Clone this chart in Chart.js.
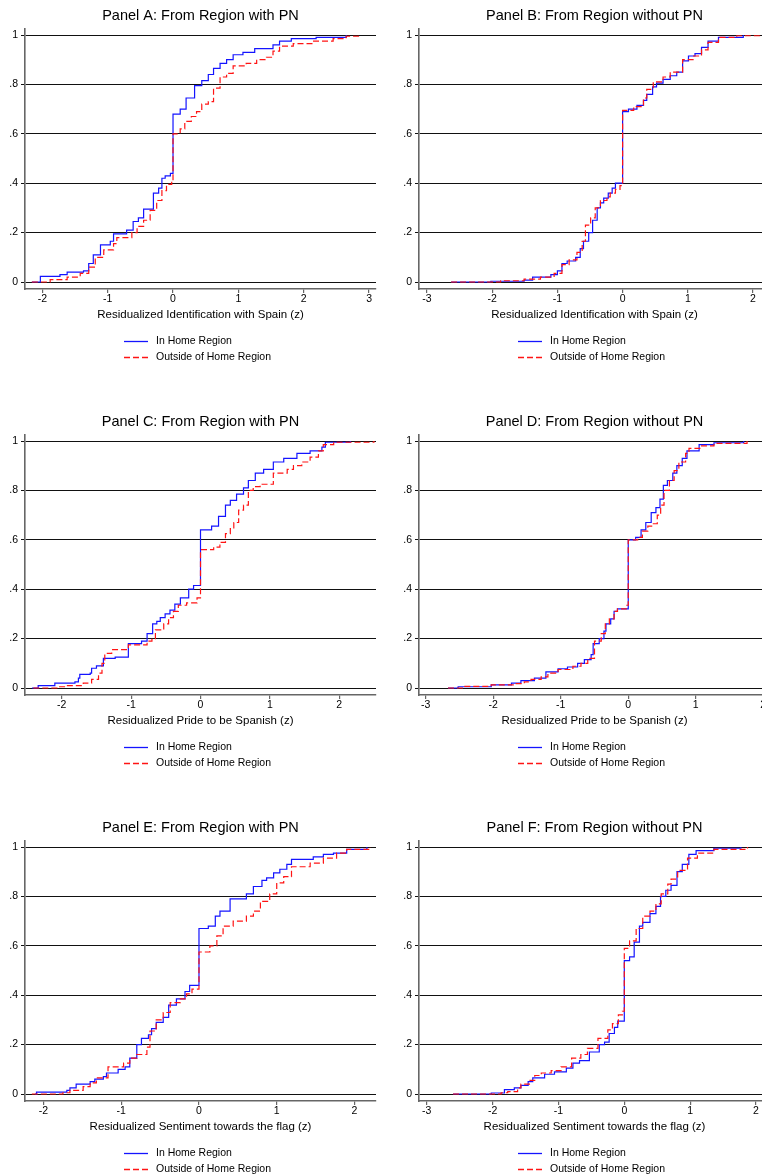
<!DOCTYPE html>
<html>
<head>
<meta charset="utf-8">
<script src="https://cdn.jsdelivr.net/npm/chart.js@4.4.1/dist/chart.umd.min.js"></script>
<style>
  html, body { margin: 0; padding: 0; background: #fff; width: 762px; height: 1176px; overflow: hidden; }
  canvas { position: absolute; }
</style>
</head>
<body>
<script>
// --- titres et axes ---
const panelTitles = [
  'Panel A: From Region with PN', 'Panel B: From Region without PN',
  'Panel C: From Region with PN', 'Panel D: From Region without PN',
  'Panel E: From Region with PN', 'Panel F: From Region without PN'
];
const axisTitles = [
  'Residualized Identification with Spain (z)', 'Residualized Identification with Spain (z)',
  'Residualized Pride to be Spanish (z)', 'Residualized Pride to be Spanish (z)',
  'Residualized Sentiment towards the flag (z)', 'Residualized Sentiment towards the flag (z)'
];
const seriesLabels = ['In Home Region', 'Outside of Home Region'];
const yTicks = [0, 0.2, 0.4, 0.6, 0.8, 1];
const xTicksA = [-2, -1, 0, 1, 2, 3];
const xTicksB = [-3, -2, -1, 0, 1, 2];
const xTicksC = [-2, -1, 0, 1, 2];
const xTicksD = [-3, -2, -1, 0, 1, 2];
const xTicksE = [-2, -1, 0, 1, 2];
const xTicksF = [-3, -2, -1, 0, 1, 2];
const xRangeA = [-2.265, 3.106];
const xRangeB = [-3.122, 2.26];
const xRangeC = [-2.53, 2.53];
const xRangeD = [-3.10, 2.10];
const xRangeE = [-2.238, 2.277];
const xRangeF = [-3.117, 2.212];

// --- CDF empiriques (sauts) ---
const homeAx = [-2.16, -2.03, -1.73, -1.62, -1.37, -1.29, -1.22, -1.11, -0.96, -0.91, -0.71, -0.61, -0.53, -0.45, -0.30, -0.22, -0.17, -0.12, -0.04, 0, 0.11, 0.20, 0.33, 0.44, 0.54, 0.62, 0.72, 0.82, 0.92, 1.07, 1.25, 1.53, 1.63, 1.81, 2.19, 2.65];
const homeAy = [0, 0.023, 0.03, 0.04, 0.045, 0.075, 0.11, 0.15, 0.165, 0.195, 0.21, 0.245, 0.26, 0.295, 0.36, 0.38, 0.42, 0.43, 0.44, 0.68, 0.70, 0.745, 0.795, 0.815, 0.84, 0.865, 0.885, 0.90, 0.92, 0.93, 0.945, 0.96, 0.975, 0.985, 0.99, 1.0];
const awayAx = [-2.16, -1.88, -1.62, -1.42, -1.29, -1.19, -1.06, -0.91, -0.86, -0.63, -0.55, -0.45, -0.35, -0.25, -0.17, -0.10, -0.02, 0, 0.11, 0.18, 0.28, 0.36, 0.44, 0.54, 0.62, 0.72, 0.82, 0.92, 1.12, 1.28, 1.43, 1.53, 1.63, 1.84, 2.14, 2.45, 2.65, 2.86];
const awayAy = [0, 0.01, 0.02, 0.035, 0.06, 0.10, 0.13, 0.155, 0.18, 0.20, 0.225, 0.25, 0.29, 0.33, 0.37, 0.395, 0.41, 0.60, 0.62, 0.65, 0.67, 0.69, 0.72, 0.73, 0.785, 0.83, 0.845, 0.875, 0.885, 0.90, 0.91, 0.935, 0.955, 0.965, 0.975, 0.985, 0.995, 1.0];

const homeBx = [-2.63, -2.02, -1.51, -1.38, -1.10, -1.00, -0.93, -0.85, -0.72, -0.65, -0.60, -0.52, -0.46, -0.39, -0.34, -0.29, -0.22, -0.16, -0.11, 0, 0.09, 0.22, 0.32, 0.37, 0.46, 0.52, 0.62, 0.73, 0.83, 0.92, 1.01, 1.11, 1.21, 1.31, 1.47, 1.85];
const homeBy = [0, 0.003, 0.008, 0.02, 0.03, 0.045, 0.075, 0.085, 0.10, 0.135, 0.165, 0.20, 0.25, 0.30, 0.32, 0.34, 0.36, 0.38, 0.40, 0.69, 0.70, 0.715, 0.735, 0.76, 0.79, 0.805, 0.82, 0.835, 0.85, 0.895, 0.915, 0.925, 0.95, 0.975, 0.99, 1.0];
const awayBx = [-2.63, -1.87, -1.51, -1.26, -1.05, -0.93, -0.82, -0.70, -0.62, -0.57, -0.49, -0.42, -0.34, -0.24, -0.19, -0.11, -0.04, 0, 0.17, 0.32, 0.37, 0.47, 0.62, 0.73, 0.92, 1.08, 1.21, 1.31, 1.47, 1.75, 2.10];
const awayBy = [0, 0.005, 0.012, 0.02, 0.035, 0.07, 0.09, 0.12, 0.165, 0.23, 0.26, 0.30, 0.33, 0.345, 0.36, 0.375, 0.39, 0.695, 0.71, 0.745, 0.78, 0.81, 0.83, 0.85, 0.90, 0.915, 0.94, 0.97, 0.99, 0.997, 1.0];

const homeCx = [-2.43, -2.34, -2.10, -1.81, -1.76, -1.74, -1.59, -1.57, -1.50, -1.40, -1.23, -1.04, -0.85, -0.77, -0.69, -0.63, -0.58, -0.51, -0.44, -0.37, -0.29, -0.17, -0.10, 0, 0.16, 0.26, 0.36, 0.43, 0.52, 0.62, 0.69, 0.79, 0.91, 1.05, 1.20, 1.39, 1.58, 1.75, 1.80, 2.16];
const homeCy = [0, 0.01, 0.02, 0.025, 0.04, 0.055, 0.06, 0.08, 0.09, 0.12, 0.125, 0.18, 0.19, 0.22, 0.26, 0.27, 0.285, 0.30, 0.315, 0.34, 0.365, 0.40, 0.415, 0.64, 0.655, 0.695, 0.74, 0.76, 0.785, 0.81, 0.84, 0.87, 0.885, 0.915, 0.93, 0.95, 0.96, 0.975, 0.995, 1.0];
const awayCx = [-2.41, -2.07, -1.93, -1.69, -1.57, -1.47, -1.42, -1.38, -1.28, -1.04, -0.77, -0.70, -0.65, -0.53, -0.46, -0.39, -0.32, -0.20, -0.05, 0, 0.19, 0.28, 0.36, 0.43, 0.48, 0.55, 0.62, 0.69, 0.76, 0.86, 1.05, 1.25, 1.34, 1.46, 1.58, 1.70, 1.77, 1.92, 2.50];
const awayCy = [0, 0.005, 0.01, 0.02, 0.035, 0.06, 0.10, 0.14, 0.155, 0.175, 0.19, 0.20, 0.235, 0.26, 0.285, 0.31, 0.335, 0.345, 0.365, 0.56, 0.57, 0.59, 0.625, 0.645, 0.67, 0.72, 0.74, 0.80, 0.815, 0.825, 0.87, 0.885, 0.90, 0.915, 0.935, 0.96, 0.985, 0.995, 1.0];

const homeDx = [-2.67, -2.52, -2.03, -1.73, -1.59, -1.39, -1.22, -1.04, -0.90, -0.75, -0.65, -0.55, -0.52, -0.43, -0.36, -0.33, -0.26, -0.21, -0.16, 0, 0.11, 0.19, 0.26, 0.34, 0.41, 0.47, 0.52, 0.58, 0.66, 0.72, 0.80, 0.87, 1.05, 1.27, 1.71];
const homeDy = [0, 0.005, 0.013, 0.02, 0.03, 0.04, 0.065, 0.078, 0.085, 0.10, 0.115, 0.135, 0.18, 0.20, 0.23, 0.26, 0.28, 0.31, 0.32, 0.60, 0.61, 0.64, 0.67, 0.71, 0.73, 0.765, 0.82, 0.84, 0.87, 0.90, 0.93, 0.96, 0.985, 0.993, 1.0];
const awayDx = [-2.67, -2.42, -2.03, -1.68, -1.54, -1.44, -1.29, -1.19, -1.04, -0.82, -0.70, -0.60, -0.50, -0.40, -0.34, -0.28, -0.21, -0.16, -0.03, 0, 0.14, 0.21, 0.29, 0.36, 0.43, 0.48, 0.53, 0.61, 0.68, 0.75, 0.85, 0.90, 1.07, 1.27, 1.76];
const awayDy = [0, 0.007, 0.013, 0.018, 0.025, 0.035, 0.045, 0.06, 0.075, 0.088, 0.10, 0.12, 0.19, 0.22, 0.26, 0.28, 0.31, 0.32, 0.335, 0.60, 0.61, 0.635, 0.655, 0.665, 0.70, 0.74, 0.80, 0.84, 0.88, 0.915, 0.95, 0.97, 0.98, 0.99, 1.0];

const homeEx = [-2.11, -2.09, -1.70, -1.66, -1.58, -1.40, -1.34, -1.23, -1.19, -1.04, -0.95, -0.89, -0.80, -0.74, -0.65, -0.61, -0.55, -0.46, -0.39, -0.29, -0.18, -0.12, 0, 0.12, 0.21, 0.27, 0.40, 0.61, 0.70, 0.81, 0.87, 0.96, 1.04, 1.13, 1.19, 1.47, 1.60, 1.73, 1.90, 2.16];
const homeEy = [0, 0.008, 0.015, 0.025, 0.04, 0.05, 0.06, 0.07, 0.085, 0.10, 0.11, 0.145, 0.20, 0.225, 0.24, 0.265, 0.29, 0.31, 0.36, 0.385, 0.415, 0.44, 0.67, 0.68, 0.72, 0.74, 0.79, 0.81, 0.84, 0.865, 0.875, 0.895, 0.91, 0.93, 0.95, 0.96, 0.97, 0.975, 0.99, 1.0];
const awayEx = [-2.15, -1.75, -1.66, -1.49, -1.40, -1.32, -1.17, -0.97, -0.89, -0.80, -0.67, -0.63, -0.55, -0.46, -0.37, -0.24, -0.16, -0.09, 0, 0.14, 0.23, 0.31, 0.44, 0.61, 0.70, 0.79, 0.91, 1.00, 1.09, 1.19, 1.43, 1.60, 1.77, 1.90, 2.20];
const awayEy = [0, 0.005, 0.015, 0.03, 0.045, 0.065, 0.11, 0.125, 0.145, 0.16, 0.19, 0.255, 0.30, 0.33, 0.37, 0.385, 0.405, 0.425, 0.575, 0.60, 0.64, 0.68, 0.70, 0.72, 0.74, 0.78, 0.81, 0.855, 0.88, 0.92, 0.935, 0.955, 0.975, 0.99, 1.0];

const homeFx = [-2.60, -2.02, -1.82, -1.67, -1.57, -1.46, -1.39, -1.21, -1.06, -0.88, -0.78, -0.68, -0.53, -0.38, -0.30, -0.23, -0.15, -0.10, 0, 0.08, 0.15, 0.23, 0.28, 0.39, 0.48, 0.55, 0.63, 0.71, 0.80, 0.88, 0.98, 1.09, 1.36, 1.77];
const homeFy = [0, 0.004, 0.018, 0.025, 0.035, 0.05, 0.065, 0.08, 0.09, 0.105, 0.125, 0.135, 0.17, 0.20, 0.21, 0.245, 0.27, 0.295, 0.54, 0.555, 0.615, 0.68, 0.695, 0.73, 0.76, 0.80, 0.825, 0.845, 0.90, 0.93, 0.97, 0.985, 0.995, 1.0];
const awayFx = [-2.60, -1.87, -1.77, -1.62, -1.57, -1.44, -1.36, -1.26, -1.11, -0.96, -0.80, -0.66, -0.56, -0.40, -0.25, -0.18, -0.09, -0.03, 0, 0.08, 0.18, 0.28, 0.39, 0.48, 0.56, 0.66, 0.71, 0.81, 0.96, 1.11, 1.36, 1.87];
const awayFy = [0, 0.005, 0.01, 0.025, 0.04, 0.055, 0.075, 0.085, 0.095, 0.11, 0.145, 0.16, 0.185, 0.225, 0.26, 0.285, 0.32, 0.335, 0.59, 0.62, 0.67, 0.72, 0.74, 0.77, 0.81, 0.85, 0.87, 0.905, 0.955, 0.975, 0.99, 1.0];

// --- mise en page ---
const panelLeft = [0, 381, 0, 381, 0, 381];
const panelTop = [0, 0, 406, 406, 812, 812];
const FONT = '"Liberation Sans", Arial, Helvetica, sans-serif';
const AXIS_COLOR = '#666';
const HOME_COLOR = 'rgb(20,20,255)';
const AWAY_COLOR = 'rgb(255,20,20)';
const AWAY_DASH = [6, 3];

Chart.defaults.font.family = FONT;
Chart.defaults.color = '#000';

function pontos(xs, ys) {
  return xs.map((x, i) => ({ x: x, y: ys[i] }));
}

// legenda no estilo Stata: duas linhas, centrada sob o gráfico
const legendaStata = {
  id: 'legendaStata',
  afterDraw(chart) {
    const { ctx, chartArea } = chart;
    const centro = (chartArea.left + chartArea.right) / 2;
    const x0 = Math.round(centro - 76.5);
    const cores = [HOME_COLOR, AWAY_COLOR];
    const tracos = [[], AWAY_DASH];
    ctx.save();
    ctx.font = '10.5px ' + FONT;
    ctx.textBaseline = 'middle';
    seriesLabels.forEach((rotulo, i) => {
      const y = Math.round(chartArea.bottom + 52 + i * 16);
      ctx.strokeStyle = cores[i];
      ctx.lineWidth = 1.3;
      ctx.setLineDash(tracos[i]);
      ctx.beginPath();
      ctx.moveTo(x0, y + 0.5);
      ctx.lineTo(x0 + 24, y + 0.5);
      ctx.stroke();
      ctx.setLineDash([]);
      ctx.fillStyle = '#000';
      ctx.fillText(rotulo, x0 + 32, y);
    });
    ctx.restore();
  }
};

const paineis = [
  { home: pontos(homeAx, homeAy), away: pontos(awayAx, awayAy), ticks: xTicksA, range: xRangeA },
  { home: pontos(homeBx, homeBy), away: pontos(awayBx, awayBy), ticks: xTicksB, range: xRangeB },
  { home: pontos(homeCx, homeCy), away: pontos(awayCx, awayCy), ticks: xTicksC, range: xRangeC },
  { home: pontos(homeDx, homeDy), away: pontos(awayDx, awayDy), ticks: xTicksD, range: xRangeD },
  { home: pontos(homeEx, homeEy), away: pontos(awayEx, awayEy), ticks: xTicksE, range: xRangeE },
  { home: pontos(homeFx, homeFy), away: pontos(awayFx, awayFy), ticks: xTicksF, range: xRangeF }
];

paineis.forEach((p, i) => {
  const direita = panelLeft[i] > 0;
  const canvas = document.createElement('canvas');
  canvas.width = direita ? 400 : 381;
  canvas.height = 380;
  canvas.style.left = panelLeft[i] + 'px';
  canvas.style.top = panelTop[i] + 'px';
  document.body.appendChild(canvas);

  new Chart(canvas.getContext('2d'), {
    type: 'line',
    data: {
      datasets: [
        { label: seriesLabels[0], data: p.home, borderColor: HOME_COLOR, borderWidth: 1.2, stepped: true, pointRadius: 0, fill: false, order: 1 },
        { label: seriesLabels[1], data: p.away, borderColor: AWAY_COLOR, borderWidth: 1.2, borderDash: AWAY_DASH, stepped: true, pointRadius: 0, fill: false, order: 0 }
      ]
    },
    options: {
      responsive: false,
      animation: false,
      events: [],
      layout: { padding: { left: 0, right: direita ? 11 : 5, top: 0, bottom: 0 } },
      plugins: {
        legend: { display: false },
        tooltip: { enabled: false },
        title: {
          display: true,
          text: panelTitles[i],
          fullSize: false,
          font: { size: 14.5, weight: 'normal', lineHeight: 1.2 },
          color: '#000',
          padding: { top: 7, bottom: 4.6 }
        }
      },
      scales: {
        x: {
          type: 'linear',
          min: p.range[0],
          max: p.range[1],
          afterBuildTicks: (s) => { s.ticks = p.ticks.map(v => ({ value: v })); },
          afterFit: (s) => { s.height = 91; },
          ticks: { padding: 0, font: { size: 10.5 }, color: '#000', maxRotation: 0 },
          grid: { drawOnChartArea: false, drawTicks: true, tickLength: 4, color: AXIS_COLOR, lineWidth: 1.2 },
          border: { display: true, color: AXIS_COLOR, width: 1.6 },
          title: {
            display: true,
            text: axisTitles[i],
            font: { size: 11.5, lineHeight: 1.2 },
            color: '#000',
            padding: { top: 0, bottom: 58 }
          }
        },
        y: {
          type: 'linear',
          min: -0.0283,
          max: 1.0243,
          afterBuildTicks: (s) => { s.ticks = yTicks.map(v => ({ value: v })); },
          afterFit: (s) => { s.width = direita ? 38 : 25; },
          ticks: {
            padding: 3,
            font: { size: 10.5 },
            color: '#000',
            callback: (v) => (v === 0 || v === 1) ? String(v) : String(v).replace(/^0/, '')
          },
          grid: { drawOnChartArea: true, drawTicks: true, tickLength: 4, color: '#111', lineWidth: 1 },
          border: { display: true, color: AXIS_COLOR, width: 1.6 }
        }
      }
    },
    plugins: [legendaStata]
  });
});
</script>
</body>
</html>
